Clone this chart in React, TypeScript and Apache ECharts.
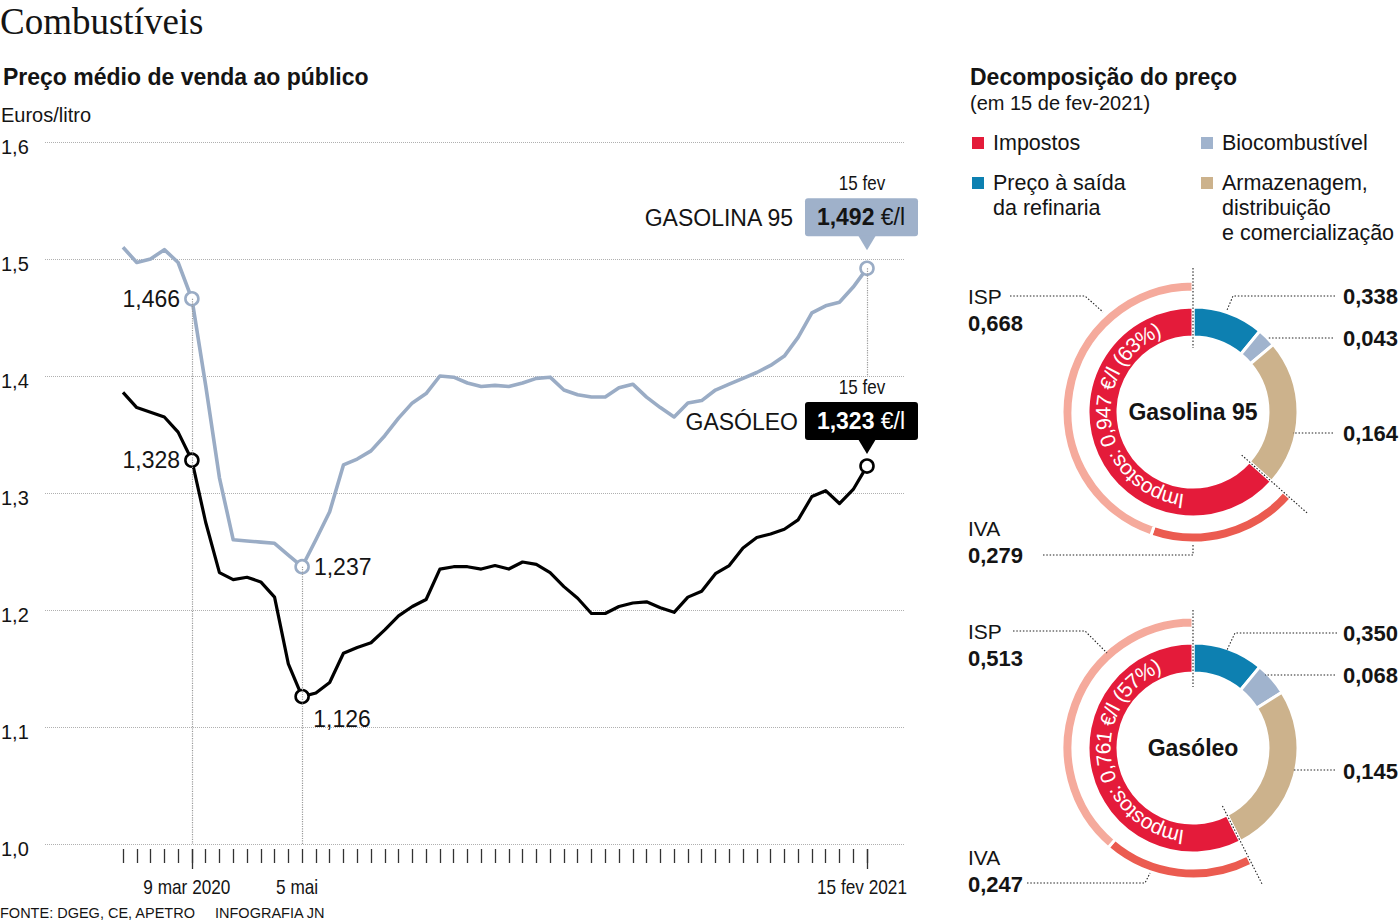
import React, { useEffect, useRef } from 'react';
import * as echarts from 'echarts';

// ---------- DATA ----------
// Weekly average retail price (€/l), 3 Feb 2020 (index 0) .. 15 Feb 2021 (index 54)
const gasolina95 = [
  1.510, 1.497, 1.500, 1.508, 1.497, 1.466, 1.392, 1.313, 1.260, 1.259, 1.258,
  1.257, 1.247, 1.237, 1.260, 1.284, 1.324, 1.329, 1.336, 1.349, 1.364, 1.377,
  1.385, 1.400, 1.399, 1.394, 1.391, 1.392, 1.391, 1.394, 1.398, 1.399, 1.388,
  1.384, 1.382, 1.382, 1.390, 1.393, 1.382, 1.373, 1.365, 1.377, 1.379, 1.388,
  1.393, 1.398, 1.403, 1.409, 1.417, 1.433, 1.454, 1.460, 1.463, 1.476, 1.492,
];
const gasoleo = [
  1.386, 1.373, 1.369, 1.365, 1.352, 1.328, 1.275, 1.232, 1.226, 1.228, 1.224,
  1.211, 1.154, 1.126, 1.129, 1.138, 1.163, 1.168, 1.172, 1.183, 1.195, 1.203,
  1.209, 1.235, 1.237, 1.237, 1.235, 1.238, 1.235, 1.241, 1.239, 1.232, 1.220,
  1.210, 1.197, 1.197, 1.203, 1.206, 1.207, 1.202, 1.198, 1.211, 1.216, 1.231,
  1.238, 1.253, 1.262, 1.265, 1.269, 1.277, 1.297, 1.302, 1.291, 1.303, 1.323,
];
const xTickIdx = gasolina95.map((_, i) => i);
const xLabelIdx = [5, 13, 54];
const xLabelText = ['9 mar 2020', '5 mai', '15 fev 2021'];
const xLongTickIdx = [5, 54];
const highlightIdx = [5, 13, 54];
const yMin = 1.0;
const yMax = 1.6;
const yStep = 0.1;

// Price decomposition on 15 Feb 2021
const legendNames = ['Impostos', 'Biocombustível', 'Preço à saída\nda refinaria', 'Armazenagem,\ndistribuição\ne comercialização'];
// ring arcs clockwise from 12 o'clock, sized as drawn in the original: blue, bio, tan, taxes
const g95Ring = [0.164, 0.043, 0.338, 0.947];
const gasoleoRing = [0.145, 0.068, 0.350, 0.761];
// outer arc: IVA, ISP
const g95Tax = [0.279, 0.668];
const gasoleoTax = [0.247, 0.513];
// right-hand labels (top to bottom)
const g95RightLabels = [0.338, 0.043, 0.164];
const gasoleoRightLabels = [0.350, 0.068, 0.145];

// ---------- STYLE ----------
const SANS = '"Liberation Sans", Arial, sans-serif';
const SERIF = '"Liberation Serif", "Times New Roman", serif';
const INK = '#141414';
const GAS_COLOR = '#9aacc5';
const RED = '#e41b3a';
const BLUE = '#0d80b1';
const BIO = '#a0b3cd';
const TAN = '#ccb28c';
const ISP_C = '#f5aa9c';
const IVA_C = '#eb5b50';
const ringColors = [BLUE, BIO, TAN, RED];
const legendColors = [RED, BIO, BLUE, TAN];

const GRID = { left: 45, right: 495, top: 142, bottom: 78 };
// x range so that index 0 sits at x=123 and index 54 at x=867
const PX_PER = (867 - 123) / 54;
const X_MIN = -(123 - GRID.left) / PX_PER;
const X_MAX = 54 + (1400 - GRID.right - 867) / PX_PER;

const fmt = (v: number, d = 3) => v.toFixed(d).replace('.', ',');

function lineData(values: number[], color: string, labelPos: Record<number, any>) {
  return values.map((v, i) => {
    if (!highlightIdx.includes(i)) return { value: [i, v], symbol: 'none' };
    const lp = labelPos[i];
    return {
      value: [i, v],
      symbol: 'circle',
      symbolSize: 13,
      itemStyle: { color: '#fff', borderColor: color, borderWidth: 2.6 },
      label: lp
        ? {
            show: true,
            position: lp.position,
            distance: lp.distance ?? 4,
            offset: lp.offset ?? [0, 0],
            formatter: () => fmt(v),
            fontFamily: SANS,
            fontSize: 23,
            color: INK,
          }
        : { show: false },
    };
  });
}

function pieSeries(center: [number, number], ring: number[], tax: number[]) {
  const nonTax = ring[0] + ring[1] + ring[2];
  return [
    {
      type: 'pie',
      center,
      radius: [75, 105],
      startAngle: 90,
      clockwise: true,
      silent: true,
      label: { show: false },
      labelLine: { show: false },
      emphasis: { disabled: true },
      itemStyle: { borderColor: '#fff', borderWidth: 3 },
      data: ring.map((v, i) => ({ value: v, itemStyle: { color: ringColors[i] } })),
    },
    {
      type: 'pie',
      center,
      radius: [120, 131],
      startAngle: 90,
      clockwise: true,
      silent: true,
      label: { show: false },
      labelLine: { show: false },
      emphasis: { disabled: true },
      itemStyle: { borderColor: '#fff', borderWidth: 3 },
      data: [
        { value: nonTax, itemStyle: { color: 'rgba(0,0,0,0)', borderWidth: 0 } },
        { value: tax[0], itemStyle: { color: IVA_C } },
        { value: tax[1], itemStyle: { color: ISP_C } },
      ],
    },
  ];
}

function buildOption() {
  return {
    animation: false,
    backgroundColor: '#fff',
    grid: { ...GRID, containLabel: false, outerBoundsMode: 'none' },
    xAxis: [
      {
        type: 'value',
        position: 'bottom',
        min: X_MIN,
        max: X_MAX,
        offset: 5,
        axisLine: { show: false },
        splitLine: { show: false },
        axisTick: { show: true, customValues: xTickIdx, length: 14, lineStyle: { color: '#333', width: 1.3 } },
        axisLabel: { show: false },
      },
      {
        type: 'value',
        position: 'bottom',
        min: X_MIN,
        max: X_MAX,
        offset: 5,
        axisLine: { show: false },
        splitLine: { show: false },
        axisTick: { show: true, customValues: xLongTickIdx, length: 20, lineStyle: { color: '#333', width: 1.3 } },
        axisLabel: { show: false },
      },
    ],
    yAxis: {
      type: 'value',
      min: yMin,
      max: yMax,
      interval: yStep,
      axisLine: { show: false },
      axisTick: { show: false },
      splitLine: { show: true, lineStyle: { type: 'dotted', color: '#b0b0b0', width: 1 } },
      axisLabel: {
        align: 'left',
        verticalAlign: 'top',
        lineHeight: 10,
        margin: GRID.left - 1,
        formatter: (v: number) => fmt(v, 1),
        fontFamily: SANS,
        fontSize: 20,
        color: INK,
      },
    },
    series: [
      {
        type: 'line',
        name: 'Gasolina 95',
        data: lineData(gasolina95, GAS_COLOR, {
          5: { position: 'left' },
          13: { position: 'right' },
        }),
        lineStyle: { color: GAS_COLOR, width: 3.6, join: 'round' },
        itemStyle: { color: GAS_COLOR },
        showSymbol: true,
        z: 3,
        markLine: {
          silent: true,
          symbol: 'none',
          label: { show: false },
          lineStyle: { type: 'dotted', color: '#9a9a9a', width: 1.2 },
          data: [
            [{ coord: [5, gasolina95[5]] }, { coord: [5, yMin] }],
            [{ coord: [13, gasolina95[13]] }, { coord: [13, yMin] }],
            [{ coord: [54, gasolina95[54]] }, { coord: [54, 1.4] }],
          ],
        },
      },
      {
        type: 'line',
        name: 'Gasóleo',
        data: lineData(gasoleo, '#000', {
          5: { position: 'left' },
          13: { position: 'bottom', distance: 3, offset: [40, 0] },
        }),
        lineStyle: { color: '#000', width: 3.2, join: 'round' },
        itemStyle: { color: '#000' },
        showSymbol: true,
        z: 4,
      },
      ...pieSeries([1193, 412], g95Ring, g95Tax),
      ...pieSeries([1193, 748], gasoleoRing, gasoleoTax),
    ],
  };
}

let measureCtx: CanvasRenderingContext2D | null = null;
function measure(ch: string, font: string) {
  if (!measureCtx) measureCtx = document.createElement('canvas').getContext('2d');
  measureCtx!.font = font;
  return measureCtx!.measureText(ch).width;
}

function arcText(text: string, cx: number, cy: number, r: number, midDeg: number, size: number) {
  const font = `${size}px "Liberation Sans"`;
  const chars = Array.from(text);
  const widths = chars.map((c) => measure(c, font));
  const total = widths.reduce((a, b) => a + b, 0);
  let ang = (midDeg * Math.PI) / 180 - total / r / 2;
  return chars.map((ch, i) => {
    const a = ang + widths[i] / r / 2;
    ang += widths[i] / r;
    return {
      type: 'text',
      x: cx + r * Math.sin(a),
      y: cy - r * Math.cos(a),
      rotation: -a,
      z: 100,
      silent: true,
      style: { text: ch, fill: '#fff', fontSize: size, fontFamily: SANS, align: 'center', verticalAlign: 'middle' },
    };
  });
}

function txt(x: number, y: number, text: string, size: number, opts: any = {}) {
  return {
    type: 'text',
    x,
    y,
    z: 50,
    silent: true,
    scaleX: opts.scaleX ?? 1,
    style: {
      text,
      fontSize: size,
      fontFamily: opts.family ?? SANS,
      fontWeight: opts.weight ?? 'normal',
      fill: opts.fill ?? INK,
      align: opts.align ?? 'left',
      verticalAlign: opts.va ?? 'middle',
      lineHeight: opts.lineHeight,
      rich: opts.rich,
    },
  };
}

function dotted(points: number[][]) {
  return {
    type: 'polyline',
    z: 60,
    silent: true,
    shape: { points },
    style: { stroke: '#222', lineWidth: 1.1, lineDash: [1.5, 1.8], fill: null },
  };
}

function donutGraphics(
  cx: number,
  cy: number,
  name: string,
  ring: number[],
  tax: number[],
  right: number[],
  L: any,
) {
  const total = ring.reduce((a, b) => a + b, 0);
  const taxAll = ring[3];
  const pct = Math.round((taxAll / total) * 100);
  const out: any[] = [];
  out.push(txt(cx, cy, name, 23, { weight: 'bold', align: 'center' }));
  out.push(...arcText(`Impostos: ${fmt(taxAll)} €/l (${pct}%)`, cx, cy, 90, 262, 21));
  // labels
  out.push(txt(968, cy + L.ispY, 'ISP', 21));
  out.push(txt(968, cy + L.ispY + 27, fmt(tax[1]), 22, { weight: 'bold' }));
  out.push(txt(968, cy + L.ivaY, 'IVA', 21));
  out.push(txt(968, cy + L.ivaY + 27, fmt(tax[0]), 22, { weight: 'bold' }));
  right.forEach((v, i) => out.push(txt(1398, cy + L.rightY[i], fmt(v), 22, { weight: 'bold', align: 'right' })));
  // leader lines
  const rel = (pts: number[][]) => pts.map(([dx, dy]) => [cx + dx, cy + dy]);
  out.push(dotted(rel(L.isp)));
  out.push(dotted(rel(L.iva)));
  L.right.forEach((p: number[][]) => out.push(dotted(rel(p))));
  out.push(dotted([[cx, cy - L.top[0]], [cx, cy - L.top[1]]]));
  const b = ((ring[0] + ring[1] + ring[2]) / total) * Math.PI * 2;
  out.push(
    dotted([
      [cx + 65 * Math.sin(b), cy - 65 * Math.cos(b)],
      [cx + 153 * Math.sin(b), cy - 153 * Math.cos(b)],
    ]),
  );
  return out;
}

function buildGraphics(pG: number[], pD: number[], xLabelPx: number[]) {
  const els: any[] = [];
  // titles
  els.push(txt(0, 21, 'Combustíveis', 37, { family: SERIF }));
  els.push(txt(3, 77, 'Preço médio de venda ao público', 23, { weight: 'bold' }));
  els.push(txt(1, 115, 'Euros/litro', 20));
  els.push(txt(970, 77, 'Decomposição do preço', 23, { weight: 'bold' }));
  els.push(txt(970, 103, '(em 15 de fev-2021)', 20));
  // legend
  const legPos = [
    [972, 143],
    [1201, 143],
    [972, 183],
    [1201, 183],
  ];
  legendNames.forEach((n, i) => {
    const [x, y] = legPos[i];
    els.push({ type: 'rect', z: 50, silent: true, shape: { x, y: y - 6, width: 12, height: 12 }, style: { fill: legendColors[i] } });
    els.push(txt(x + 21, y - 12.5, n, 21.5, { va: 'top', lineHeight: 25 }));
  });
  // x-axis date labels (condensed), placed at the axis positions of their weeks
  xLabelText.forEach((t, i) => {
    els.push(txt(xLabelPx[i] - 5, 887, t, 21, { align: 'center', scaleX: 0.82 }));
  });
  // footer
  els.push(txt(0, 913, 'FONTE: DGEG, CE, APETRO', 14.5));
  els.push(txt(215, 913, 'INFOGRAFIA JN', 14.5));

  // end-of-line callouts
  const callout = (p: number[], top: number, fill: string, textFill: string, value: number, name: string, nameDx: number) => {
    const [x, y] = p;
    return [
      { type: 'rect', z: 40, silent: true, shape: { x: x - 62, y: y + top, width: 113, height: 38, r: 3 }, style: { fill } },
      {
        type: 'polygon',
        z: 40,
        silent: true,
        shape: { points: [[x - 9, y + top + 37], [x + 9, y + top + 37], [x, y + top + 52]] },
        style: { fill },
      },
      txt(x - 6, y + top + 19, `{b|${fmt(value)}} €/l`, 23, {
        align: 'center',
        fill: textFill,
        rich: { b: { fontSize: 23, fontWeight: 'bold', fontFamily: SANS, fill: textFill } },
      }),
      txt(x - nameDx, y + top + 20, name, 23, { align: 'right' }),
      txt(x - 5, y + top - 15, '15 fev', 20, { align: 'center', scaleX: 0.85 }),
    ];
  };
  els.push(...callout(pG, -70, '#9fb1ca', INK, gasolina95[54], 'GASOLINA 95', 74));
  els.push(...callout(pD, -64, '#000', '#fff', gasoleo[54], 'GASÓLEO', 69));

  // donuts
  els.push(
    ...donutGraphics(1193, 412, 'Gasolina 95', g95Ring, g95Tax, g95RightLabels, {
      ispY: -116,
      ivaY: 116,
      rightY: [-116, -74, 21],
      isp: [[-183, -116], [-108, -116], [-90, -100]],
      iva: [[-150, 143], [0, 143], [0, 133]],
      right: [
        [[142, -116], [40, -116], [34, -102]],
        [[140, -74], [75, -74]],
        [[140, 21], [100, 21]],
      ],
      top: [144, 64],
    }),
  );
  els.push(
    ...donutGraphics(1193, 748, 'Gasóleo', gasoleoRing, gasoleoTax, gasoleoRightLabels, {
      ispY: -117,
      ivaY: 109,
      rightY: [-115, -73, 23],
      isp: [[-180, -117], [-108, -117], [-86, -95]],
      iva: [[-166, 135], [-48, 135], [-43, 125]],
      right: [
        [[144, -115], [42, -115], [34, -98]],
        [[142, -73], [72, -73]],
        [[142, 22], [100, 22]],
      ],
      top: [138, 61],
    }),
  );
  return els;
}

export default function App() {
  const ref = useRef<HTMLDivElement>(null);
  useEffect(() => {
    if (!ref.current) return;
    const chart = echarts.init(ref.current, null, { renderer: 'svg' });
    chart.setOption(buildOption() as any);
    const pG = chart.convertToPixel({ seriesIndex: 0 }, [54, gasolina95[54]]) as number[];
    const pD = chart.convertToPixel({ seriesIndex: 1 }, [54, gasoleo[54]]) as number[];
    const xLabelPx = xLabelIdx.map((i) => chart.convertToPixel({ xAxisIndex: 0 }, i) as number);
    chart.setOption({ graphic: { elements: buildGraphics(pG, pD, xLabelPx) } } as any);
    return () => chart.dispose();
  }, []);
  return (
    <div
      ref={ref}
      style={{ position: 'absolute', left: 0, top: 0, width: 1400, height: 922, background: '#fff' }}
    />
  );
}
